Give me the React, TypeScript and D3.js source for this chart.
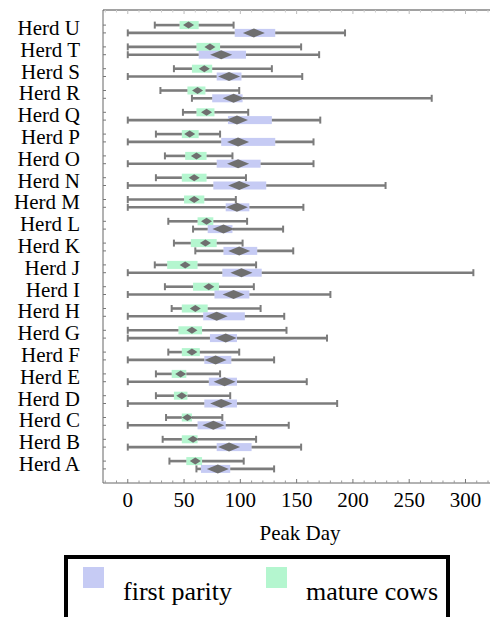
import * as d3 from 'd3'

// herds listed bottom to top (A at the bottom)
const herds = ['A', 'B', 'C', 'D', 'E', 'F', 'G', 'H', 'I', 'J', 'K', 'L', 'M', 'N', 'O', 'P', 'Q', 'R', 'S', 'T', 'U']

// mature cows (green)
const matureMin = [37, 31, 34, 25, 25, 36, 0, 39, 33, 24, 41, 36, 0, 25, 33, 25, 49, 29, 41, 0, 24]
const matureQ1 = [52, 48, 48, 41, 39, 48, 45, 48, 58, 35, 56, 62, 50, 48, 51, 48, 61, 53, 57, 61, 46]
const matureMid = [60, 58, 53, 48, 47, 57, 57, 60, 72, 51, 69, 70, 59, 59, 61, 55, 70, 62, 68, 73, 54]
const matureQ3 = [66, 62, 57, 53, 52, 64, 66, 71, 81, 62, 79, 76, 68, 70, 70, 63, 77, 69, 75, 82, 63]
const matureMax = [103, 114, 84, 91, 82, 99, 141, 118, 112, 114, 102, 106, 96, 105, 93, 82, 107, 99, 128, 154, 94]

// first parity (blue)
const firstMin = [61, 0, 0, 0, 0, 0, 0, 0, 0, 0, 60, 58, 0, 0, 0, 0, 0, 57, 0, 0, 0]
const firstQ1 = [65, 79, 62, 68, 72, 68, 73, 67, 77, 84, 85, 71, 87, 76, 79, 83, 89, 75, 79, 63, 95]
const firstMid = [80, 90, 76, 83, 86, 78, 87, 79, 94, 101, 99, 85, 97, 99, 98, 98, 97, 94, 90, 83, 112]
const firstQ3 = [91, 110, 87, 97, 97, 92, 97, 104, 108, 119, 115, 93, 108, 123, 118, 131, 128, 102, 101, 105, 131]
const firstMax = [130, 154, 143, 186, 159, 130, 177, 139, 180, 307, 147, 138, 156, 229, 165, 165, 171, 270, 155, 170, 193]

const xTicks = [0, 50, 100, 150, 200, 250, 300]

const W = 490
const H = 617
const left = 103
const right = 488
const top = 10
const bottom = 483
const serif = "'Liberation Serif', 'DejaVu Serif', 'Times New Roman', serif"
const blueFill = '#c6cbf4'
const greenFill = '#b4f6cf'
const whisker = '#7c7c7c'
const diamond = '#6f6f6f'

type Row = { herd: string; min: number; q1: number; mid: number; q3: number; max: number }

function rows(mn: number[], q1: number[], md: number[], q3: number[], mx: number[]): Row[] {
  return herds.map((h, i) => ({ herd: h, min: mn[i], q1: q1[i], mid: md[i], q3: q3[i], max: mx[i] }))
}

const mature = rows(matureMin, matureQ1, matureMid, matureQ3, matureMax)
const first = rows(firstMin, firstQ1, firstMid, firstQ3, firstMax)

export default function App() {
  const x = d3.scaleLinear().domain([-22, 320]).range([left, right])
  const y = d3.scalePoint<string>().domain([...herds].reverse()).range([29, 465])
  const minor = d3.range(-20, 321, 10).filter((v) => v % 50 !== 0)

  const series = [
    { data: mature, off: -3.9, fill: greenFill, dw: 5.5, dh: 3.5 },
    { data: first, off: 3.9, fill: blueFill, dw: 11, dh: 4.5 },
  ]

  return (
    <svg width={W} height={H} style={{ position: 'absolute', left: 0, top: 0, background: '#fff', fontFamily: serif }}>
      {/* frame */}
      <line x1={left} x2={W} y1={top} y2={top} stroke="#444" strokeWidth={1} />
      <line x1={left} x2={left} y1={top} y2={bottom} stroke="#666" strokeWidth={1} />
      <line x1={left} x2={W} y1={bottom} y2={bottom} stroke="#666" strokeWidth={1} />

      {xTicks.map((t) => (
        <g key={t}>
          <line x1={x(t)} x2={x(t)} y1={bottom} y2={bottom - 4} stroke="#777" />
          <line x1={x(t)} x2={x(t)} y1={top} y2={top + 4} stroke="#bbb" />
          <text x={x(t)} y={507} textAnchor="middle" style={{ fontFamily: serif }} fontSize={21}>{t}</text>
        </g>
      ))}
      {minor.map((t) => (
        <g key={'m' + t}>
          <line x1={x(t)} x2={x(t)} y1={bottom} y2={bottom - 2.5} stroke="#999" />
          <line x1={x(t)} x2={x(t)} y1={top} y2={top + 2.5} stroke="#ccc" />
        </g>
      ))}
      <text x={300} y={540} textAnchor="middle" style={{ fontFamily: serif }} fontSize={21}>Peak Day</text>

      {herds.map((h) => (
        <g key={h}>
          <text x={80} y={(y(h) ?? 0) + 6} textAnchor="end" style={{ fontFamily: serif }} fontSize={21}>Herd {h}</text>
          <line x1={left} x2={left + 3} y1={(y(h) ?? 0) - 3.9} y2={(y(h) ?? 0) - 3.9} stroke="#777" />
          <line x1={left} x2={left + 3} y1={(y(h) ?? 0) + 3.9} y2={(y(h) ?? 0) + 3.9} stroke="#777" />
        </g>
      ))}

      {series.map((s, si) =>
        s.data.map((r) => {
          const cy = (y(r.herd) ?? 0) + s.off
          const cx = x(r.mid)
          return (
            <g key={si + r.herd}>
              <rect x={x(r.q1)} y={cy - 4} width={x(r.q3) - x(r.q1)} height={8} fill={s.fill} />
              <line x1={x(r.min)} x2={x(r.q1)} y1={cy} y2={cy} stroke={whisker} strokeWidth={2.6} />
              <line x1={x(r.q3)} x2={x(r.max)} y1={cy} y2={cy} stroke={whisker} strokeWidth={2.6} />
              <line x1={x(r.min)} x2={x(r.min)} y1={cy - 3.5} y2={cy + 3.5} stroke={whisker} strokeWidth={2} />
              <line x1={x(r.max)} x2={x(r.max)} y1={cy - 3.5} y2={cy + 3.5} stroke={whisker} strokeWidth={2} />
              <path
                d={`M${cx - s.dw},${cy}L${cx},${cy - s.dh}L${cx + s.dw},${cy}L${cx},${cy + s.dh}Z`}
                fill={diamond}
              />
            </g>
          )
        })
      )}

      {/* legend */}
      <rect x={66} y={557} width={382} height={120} fill="none" stroke="#000" strokeWidth={4} />
      <rect x={83} y={567} width={21} height={21} fill={blueFill} />
      <text x={123} y={600} style={{ fontFamily: serif }} fontSize={26}>first parity</text>
      <rect x={266} y={567} width={21} height={21} fill={greenFill} />
      <text x={306} y={600} style={{ fontFamily: serif }} fontSize={26}>mature cows</text>
    </svg>
  )
}
